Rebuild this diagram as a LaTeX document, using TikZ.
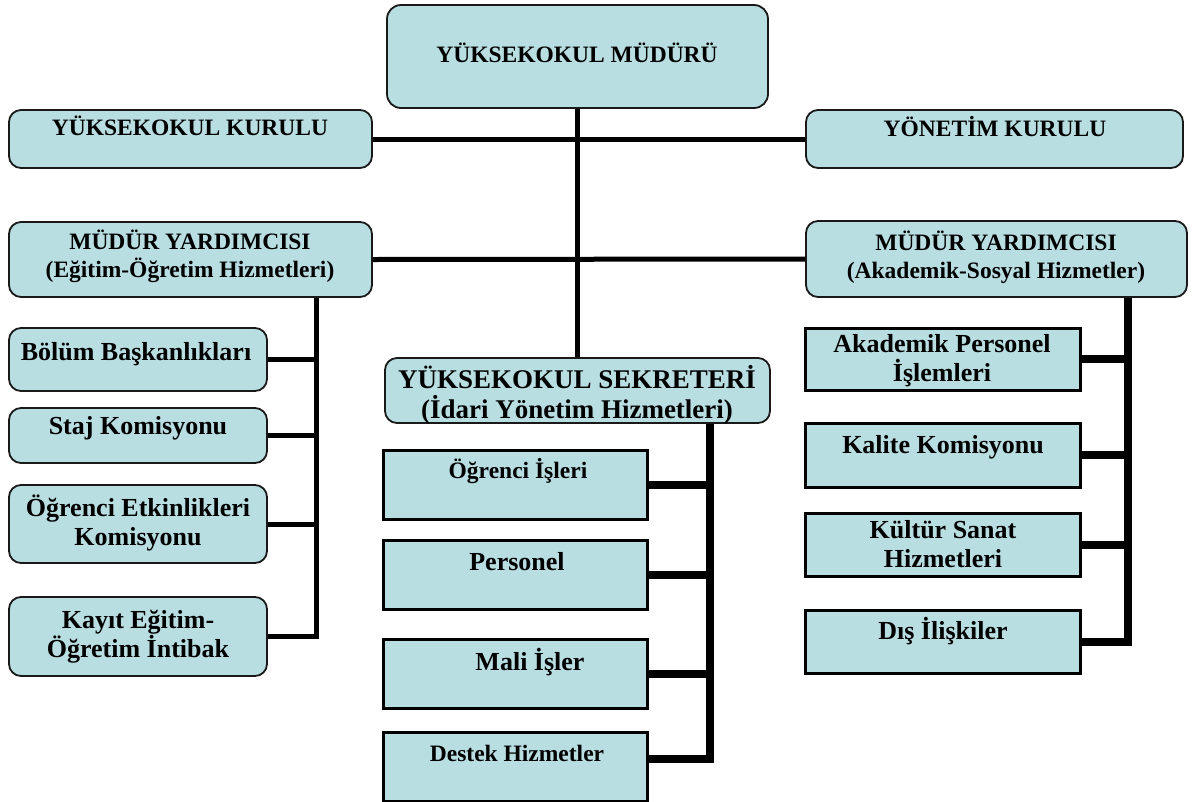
\documentclass[tikz,border=0pt]{standalone}
\usepackage{fontspec}
\setmainfont{Liberation Serif}
\usepackage{xcolor}
\usepackage{tikz}
\definecolor{figline}{RGB}{25,25,25}
\definecolor{figbox}{RGB}{184,222,226}
\tikzset{
  rb/.style  ={draw=figline, fill=figbox, line width=1.8pt, rounded corners=12pt, inner sep=0pt},
  sb/.style  ={draw=black, fill=figbox, line width=3pt, inner sep=0pt},
  cn/.style  ={draw=black, line width=5pt},
  cnb/.style ={draw=black, line width=8pt},
  lab/.style ={font=\fontsize{23.5}{28}\selectfont\bfseries, align=center, anchor=base, inner sep=0pt},
  labb/.style={font=\fontsize{26}{29}\selectfont\bfseries, align=center, anchor=base, inner sep=0pt},
  labc/.style={font=\fontsize{27}{30}\selectfont\bfseries, align=center, anchor=base, inner sep=0pt},
}

\begin{document}
\begin{tikzpicture}[x=1pt,y=-1pt]
  \fill[white] (0,0) rectangle (1192,801);
  \useasboundingbox (0,0) rectangle (1192,801);
  % upper level
  \node[rb, rounded corners=14pt, minimum width=381, minimum height=103] (mudur) at (577.5,56.5) {};
  \node[rb, minimum width=363, minimum height=58] (kurul) at (190.5,139) {};
  \node[rb, minimum width=377, minimum height=58] (yonetim) at (994.5,139) {};
  \node[rb, minimum width=363, minimum height=75] (myl) at (190.5,259.5) {};
  \node[rb, minimum width=381, minimum height=76] (myr) at (996.5,259) {};
  \node[rb, minimum width=385, minimum height=65] (sekr) at (577.5,390.5) {};
  % left column
  \node[rb, minimum width=258, minimum height=63] (bolum) at (138,359.5) {};
  \node[rb, minimum width=258, minimum height=55] (staj) at (138,435.5) {};
  \node[rb, minimum width=258, minimum height=78] (etkin) at (138,524) {};
  \node[rb, minimum width=258, minimum height=79] (kayit) at (138,636.5) {};
  % middle column
  \node[sb, minimum width=264, minimum height=69] (ogr) at (515,484.5) {};
  \node[sb, minimum width=264, minimum height=69] (pers) at (515,574.5) {};
  \node[sb, minimum width=264, minimum height=69] (mali) at (515,673.5) {};
  \node[sb, minimum width=264, minimum height=69] (destek) at (515,766.5) {};
  % right column
  \node[sb, minimum width=275, minimum height=62] (akper) at (942.5,359) {};
  \node[sb, minimum width=275, minimum height=64] (kalite) at (942.5,455) {};
  \node[sb, minimum width=275, minimum height=63] (kultur) at (942.5,544.5) {};
  \node[sb, minimum width=275, minimum height=63] (dis) at (942.5,641.5) {};

  % texts (base = last line)
  \node[lab] (t-mudur) at (577,62) {YÜKSEKOKUL MÜDÜRÜ};
  \node[lab] (t-kurul) at (190,135) {YÜKSEKOKUL KURULU};
  \node[lab] (t-yonetim) at (995,136) {YÖNETİM KURULU};
  \node[lab] (t-myl) at (190,277) {MÜDÜR YARDIMCISI\\(Eğitim-Öğretim Hizmetleri)};
  \node[lab] (t-myr) at (996,278) {MÜDÜR YARDIMCISI\\(Akademik-Sosyal Hizmetler)};
  \node[labc] (t-sekr) at (577,418) {YÜKSEKOKUL SEKRETERİ\\(İdari Yönetim Hizmetleri)};
  \node[labb] (t-bolum) at (136,360) {Bölüm Başkanlıkları};
  \node[labb] (t-staj) at (138,434) {Staj Komisyonu};
  \node[labb] (t-etkin) at (138,545) {Öğrenci Etkinlikleri\\Komisyonu};
  \node[labb] (t-kayit) at (138,657) {Kayıt Eğitim-\\Öğretim İntibak};
  \node[lab] (t-ogr) at (518,478) {Öğrenci İşleri};
  \node[labb] (t-pers) at (517,570) {Personel};
  \node[labb] (t-mali) at (530,670) {Mali İşler};
  \node[lab] (t-destek) at (517,761) {Destek Hizmetler};
  \node[labb] (t-akper) at (942,381) {Akademik Personel\\İşlemleri};
  \node[labb] (t-kalite) at (943,453) {Kalite Komisyonu};
  \node[labb] (t-kultur) at (943,567) {Kültür Sanat\\Hizmetleri};
  \node[labb] (t-dis) at (943,639) {Dış İlişkiler};

  % connectors
  \coordinate (lbus) at (316,0);
  \coordinate (mbus) at (710,0);
  \coordinate (rbus) at (1128,0);
  \coordinate (dk) at ([yshift=8pt]destek.east);
  \draw[cn] (mudur.south) -- (sekr.north);
  \draw[cn] (kurul.east) -- (yonetim.west);
  \draw[cn] (myl.east) -- (myr.west);
  \draw[cn] (myl.south -| lbus) -- (kayit.east -| lbus) -- (kayit.east);
  \draw[cn] (bolum.east) -- (bolum.east -| lbus);
  \draw[cn] (staj.east) -- (staj.east -| lbus);
  \draw[cn] (etkin.east) -- (etkin.east -| lbus);
  \draw[cnb] (sekr.south -| mbus) -- (dk -| mbus) -- (dk);
  \draw[cnb] (ogr.east) -- (ogr.east -| mbus);
  \draw[cnb] (pers.east) -- (pers.east -| mbus);
  \draw[cnb] (mali.east) -- (mali.east -| mbus);
  \draw[cnb] (myr.south -| rbus) -- (dis.east -| rbus) -- (dis.east);
  \draw[cnb] (akper.east) -- (akper.east -| rbus);
  \draw[cnb] (kalite.east) -- (kalite.east -| rbus);
  \draw[cnb] (kultur.east) -- (kultur.east -| rbus);
\end{tikzpicture}
\end{document}
